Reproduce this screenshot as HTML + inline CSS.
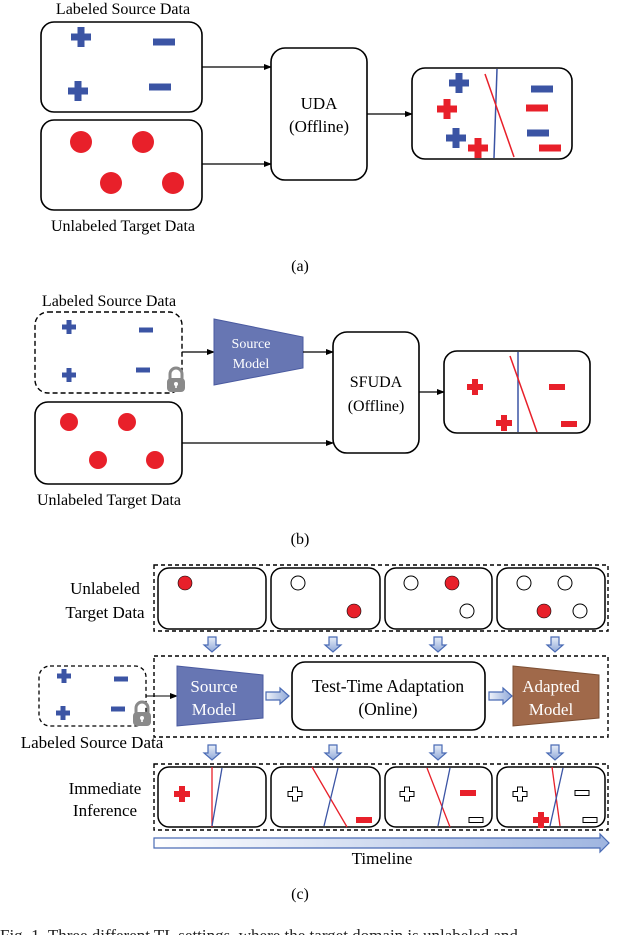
<!DOCTYPE html>
<html><head><meta charset="utf-8"><style>
html,body{margin:0;padding:0;background:#fff;}
svg{display:block;font-family:"Liberation Serif",serif;}
</style></head><body>
<svg width="640" height="935" viewBox="0 0 640 935" xmlns="http://www.w3.org/2000/svg">
<defs>
<marker id="ah" markerWidth="8" markerHeight="8" refX="7" refY="4" orient="auto" markerUnits="userSpaceOnUse"><path d="M0,1 L8,4 L0,7 Z" fill="#000"/></marker>
<linearGradient id="bg" x1="0" y1="0" x2="0" y2="1"><stop offset="0" stop-color="#e8eef8"/><stop offset="1" stop-color="#8fa8d8"/></linearGradient>
<linearGradient id="bgh" x1="0" y1="0" x2="1" y2="0"><stop offset="0" stop-color="#eef2fa"/><stop offset="1" stop-color="#8fa8d8"/></linearGradient>
<linearGradient id="tl" x1="0" y1="0" x2="1" y2="0"><stop offset="0" stop-color="#ffffff"/><stop offset="1" stop-color="#9fb5e0"/></linearGradient>
<g id="bp"><rect x="-10" y="-3.5" width="20" height="7" fill="#3b54a4"/><rect x="-3.5" y="-10" width="7" height="20" fill="#3b54a4"/></g>
<g id="rp"><rect x="-10" y="-3.5" width="20" height="7" fill="#e8202a"/><rect x="-3.5" y="-10" width="7" height="20" fill="#e8202a"/></g>
<g id="bm"><rect x="-11" y="-3.5" width="22" height="7" fill="#3b54a4"/></g>
<g id="rm"><rect x="-11" y="-3.5" width="22" height="7" fill="#e8202a"/></g>
<g id="bps"><rect x="-7" y="-2.5" width="14" height="5" fill="#3b54a4"/><rect x="-2.5" y="-7" width="5" height="14" fill="#3b54a4"/></g>
<g id="bms"><rect x="-7" y="-2.5" width="14" height="5" fill="#3b54a4"/></g>
<g id="rps"><rect x="-8" y="-3" width="16" height="6" fill="#e8202a"/><rect x="-3" y="-8" width="6" height="16" fill="#e8202a"/></g>
<g id="rms"><rect x="-8" y="-3" width="16" height="6" fill="#e8202a"/></g>
<g id="hp"><path d="M-2.5,-7 h5 v4.5 h4.5 v5 h-4.5 v4.5 h-5 v-4.5 h-4.5 v-5 h4.5 Z" fill="#fff" stroke="#000" stroke-width="1"/></g>
<g id="hm"><rect x="-7" y="-2.5" width="14" height="5" fill="#fff" stroke="#000" stroke-width="1"/></g>
<g id="lock"><path d="M-6,-2 v-5 a6,6 0 0 1 12,0 v5" fill="none" stroke="#8a8a8a" stroke-width="3"/><rect x="-9" y="-3" width="18" height="14" rx="4" fill="#8a8a8a"/><circle cx="0" cy="3" r="2" fill="#fff"/><rect x="-0.8" y="3" width="1.6" height="4" fill="#fff"/></g>
<g id="da"><path d="M-4,0 h8 v8 h4 l-8,7 l-8,-7 h4 Z" fill="url(#bg)" stroke="#4a6bb5" stroke-width="1.2"/></g>
<g id="ra"><path d="M0,-4 h14 v-4 l9,8 l-9,8 v-4 h-14 Z" fill="url(#bgh)" stroke="#4a6bb5" stroke-width="1.2"/></g>
</defs>

<!-- (a) -->
<text x="123" y="14" font-size="16" text-anchor="middle">Labeled Source Data</text>
<rect x="41" y="22" width="161" height="90" rx="13" fill="#fff" stroke="#000" stroke-width="1.6"/>
<use href="#bp" x="81" y="37"/><use href="#bp" x="78" y="91"/>
<use href="#bm" x="164" y="42"/><use href="#bm" x="160" y="87"/>
<rect x="41" y="120" width="161" height="90" rx="13" fill="#fff" stroke="#000" stroke-width="1.6"/>
<circle cx="81" cy="142" r="11" fill="#e8202a"/><circle cx="143" cy="142" r="11" fill="#e8202a"/>
<circle cx="111" cy="183" r="11" fill="#e8202a"/><circle cx="173" cy="183" r="11" fill="#e8202a"/>
<text x="123" y="231" font-size="16" text-anchor="middle">Unlabeled Target Data</text>
<line x1="202" y1="67" x2="271" y2="67" stroke="#000" stroke-width="1.2" marker-end="url(#ah)"/>
<line x1="202" y1="164" x2="271" y2="164" stroke="#000" stroke-width="1.2" marker-end="url(#ah)"/>
<rect x="271" y="48" width="96" height="132" rx="14" fill="#fff" stroke="#000" stroke-width="1.6"/>
<text x="319" y="109" font-size="17" text-anchor="middle">UDA</text>
<text x="319" y="132" font-size="17" text-anchor="middle">(Offline)</text>
<line x1="367" y1="114" x2="412" y2="114" stroke="#000" stroke-width="1.2" marker-end="url(#ah)"/>
<rect x="412" y="68" width="160" height="91" rx="13" fill="#fff" stroke="#000" stroke-width="1.6"/>
<line x1="497" y1="69" x2="494" y2="158" stroke="#3b54a4" stroke-width="1.5"/>
<line x1="485" y1="74" x2="514" y2="157" stroke="#e8202a" stroke-width="1.5"/>
<use href="#bp" x="459" y="83"/><use href="#bp" x="456" y="138"/>
<use href="#rp" x="447" y="109"/><use href="#rp" x="478" y="148"/>
<use href="#bm" x="542" y="89"/><use href="#bm" x="538" y="133"/>
<use href="#rm" x="537" y="108"/><use href="#rm" x="550" y="148"/>
<text x="300" y="271" font-size="16" text-anchor="middle">(a)</text>

<!-- (b) -->
<text x="109" y="306" font-size="16" text-anchor="middle">Labeled Source Data</text>
<rect x="35" y="312" width="147" height="81" rx="13" fill="#fff" stroke="#000" stroke-width="1.4" stroke-dasharray="5,3"/>
<use href="#bps" x="69" y="327"/><use href="#bps" x="69" y="375"/>
<use href="#bms" x="146" y="330"/><use href="#bms" x="143" y="370"/>
<use href="#lock" x="176" y="381"/>
<rect x="35" y="402" width="147" height="82" rx="13" fill="#fff" stroke="#000" stroke-width="1.6"/>
<circle cx="69" cy="422" r="9" fill="#e8202a"/><circle cx="127" cy="422" r="9" fill="#e8202a"/>
<circle cx="98" cy="460" r="9" fill="#e8202a"/><circle cx="155" cy="460" r="9" fill="#e8202a"/>
<text x="109" y="505" font-size="16" text-anchor="middle">Unlabeled Target Data</text>
<line x1="182" y1="352" x2="214" y2="352" stroke="#000" stroke-width="1.2" marker-end="url(#ah)"/>
<polygon points="214,319 303,337 303,368 214,385" fill="#6776b3" stroke="#4a5aa0" stroke-width="1"/>
<text x="251" y="348" font-size="14" fill="#fff" text-anchor="middle">Source</text>
<text x="251" y="368" font-size="14" fill="#fff" text-anchor="middle">Model</text>
<line x1="303" y1="352" x2="333" y2="352" stroke="#000" stroke-width="1.2" marker-end="url(#ah)"/>
<line x1="182" y1="443" x2="333" y2="443" stroke="#000" stroke-width="1.2" marker-end="url(#ah)"/>
<rect x="333" y="332" width="86" height="121" rx="14" fill="#fff" stroke="#000" stroke-width="1.6"/>
<text x="376" y="387" font-size="16" text-anchor="middle">SFUDA</text>
<text x="376" y="411" font-size="16" text-anchor="middle">(Offline)</text>
<line x1="419" y1="392" x2="444" y2="392" stroke="#000" stroke-width="1.2" marker-end="url(#ah)"/>
<rect x="444" y="351" width="146" height="82" rx="13" fill="#fff" stroke="#000" stroke-width="1.6"/>
<line x1="518" y1="352" x2="518" y2="432" stroke="#3b54a4" stroke-width="1.5"/>
<line x1="510" y1="356" x2="537" y2="432" stroke="#e8202a" stroke-width="1.5"/>
<use href="#rps" x="475" y="387"/><use href="#rps" x="504" y="423"/>
<use href="#rms" x="557" y="387"/><use href="#rms" x="569" y="424"/>
<text x="300" y="544" font-size="16" text-anchor="middle">(b)</text>

<!-- (c) -->
<rect x="154" y="565" width="454" height="66" fill="none" stroke="#000" stroke-width="1.4" stroke-dasharray="4,3"/>
<rect x="158" y="568" width="108" height="61" rx="11" fill="#fff" stroke="#000" stroke-width="1.5"/>
<rect x="271" y="568" width="109" height="61" rx="11" fill="#fff" stroke="#000" stroke-width="1.5"/>
<rect x="385" y="568" width="107" height="61" rx="11" fill="#fff" stroke="#000" stroke-width="1.5"/>
<rect x="497" y="568" width="108" height="61" rx="11" fill="#fff" stroke="#000" stroke-width="1.5"/>
<circle cx="185" cy="583" r="7" fill="#e8202a" stroke="#000" stroke-width="0.6"/>
<circle cx="298" cy="583" r="7" fill="#fff" stroke="#000" stroke-width="1"/>
<circle cx="354" cy="611" r="7" fill="#e8202a" stroke="#000" stroke-width="0.6"/>
<circle cx="411" cy="583" r="7" fill="#fff" stroke="#000" stroke-width="1"/>
<circle cx="452" cy="583" r="7" fill="#e8202a" stroke="#000" stroke-width="0.6"/>
<circle cx="467" cy="611" r="7" fill="#fff" stroke="#000" stroke-width="1"/>
<circle cx="524" cy="583" r="7" fill="#fff" stroke="#000" stroke-width="1"/>
<circle cx="565" cy="583" r="7" fill="#fff" stroke="#000" stroke-width="1"/>
<circle cx="544" cy="611" r="7" fill="#e8202a" stroke="#000" stroke-width="0.6"/>
<circle cx="580" cy="611" r="7" fill="#fff" stroke="#000" stroke-width="1"/>
<text x="105" y="594" font-size="17" text-anchor="middle">Unlabeled</text>
<text x="105" y="618" font-size="17" text-anchor="middle">Target Data</text>
<use href="#da" x="212" y="637"/><use href="#da" x="333" y="637"/><use href="#da" x="438" y="637"/><use href="#da" x="555" y="637"/>

<rect x="154" y="656" width="454" height="81" fill="none" stroke="#000" stroke-width="1.4" stroke-dasharray="4,3"/>
<rect x="39" y="666" width="107" height="60" rx="11" fill="#fff" stroke="#000" stroke-width="1.3" stroke-dasharray="4,3"/>
<use href="#bps" x="64" y="676"/><use href="#bps" x="63" y="713"/>
<use href="#bms" x="121" y="679"/><use href="#bms" x="118" y="709"/>
<use href="#lock" x="142" y="715"/>
<line x1="146" y1="696" x2="177" y2="696" stroke="#000" stroke-width="1" marker-end="url(#ah)"/>
<text x="92" y="748" font-size="17" text-anchor="middle">Labeled Source Data</text>
<polygon points="177,666 263,675 263,718 177,726" fill="#6776b3" stroke="#4a5aa0" stroke-width="1"/>
<text x="214" y="692" font-size="17" fill="#fff" text-anchor="middle">Source</text>
<text x="214" y="715" font-size="17" fill="#fff" text-anchor="middle">Model</text>
<use href="#ra" x="266" y="696"/>
<rect x="292" y="662" width="193" height="68" rx="13" fill="#fff" stroke="#000" stroke-width="1.6"/>
<text x="388" y="692" font-size="17.5" text-anchor="middle">Test-Time Adaptation</text>
<text x="388" y="715" font-size="17.5" text-anchor="middle">(Online)</text>
<use href="#ra" x="489" y="696"/>
<polygon points="513,666 599,675 599,718 513,726" fill="#a0694a" stroke="#7d4f33" stroke-width="1"/>
<text x="551" y="692" font-size="17" fill="#fff" text-anchor="middle">Adapted</text>
<text x="551" y="715" font-size="17" fill="#fff" text-anchor="middle">Model</text>
<use href="#da" x="212" y="745"/><use href="#da" x="333" y="745"/><use href="#da" x="438" y="745"/><use href="#da" x="555" y="745"/>

<rect x="154" y="764" width="454" height="66" fill="none" stroke="#000" stroke-width="1.4" stroke-dasharray="4,3"/>
<rect x="158" y="767" width="108" height="60" rx="11" fill="#fff" stroke="#000" stroke-width="1.5"/>
<rect x="271" y="767" width="109" height="60" rx="11" fill="#fff" stroke="#000" stroke-width="1.5"/>
<rect x="385" y="767" width="107" height="60" rx="11" fill="#fff" stroke="#000" stroke-width="1.5"/>
<rect x="497" y="767" width="108" height="60" rx="11" fill="#fff" stroke="#000" stroke-width="1.5"/>
<text x="105" y="794" font-size="17" text-anchor="middle">Immediate</text>
<text x="105" y="816" font-size="17" text-anchor="middle">Inference</text>
<line x1="212" y1="767" x2="212" y2="827" stroke="#e8202a" stroke-width="1.3"/>
<line x1="222" y1="768" x2="212" y2="826" stroke="#3b54a4" stroke-width="1.3"/>
<use href="#rps" x="182" y="794"/>
<line x1="312" y1="767" x2="347" y2="827" stroke="#e8202a" stroke-width="1.3"/>
<line x1="338" y1="768" x2="324" y2="826" stroke="#3b54a4" stroke-width="1.3"/>
<use href="#hp" x="295" y="794"/>
<use href="#rms" x="364" y="820"/>
<line x1="427" y1="768" x2="450" y2="827" stroke="#e8202a" stroke-width="1.3"/>
<line x1="450" y1="768" x2="438" y2="826" stroke="#3b54a4" stroke-width="1.3"/>
<use href="#hp" x="407" y="794"/>
<use href="#rms" x="468" y="793"/>
<use href="#hm" x="476" y="820"/>
<line x1="552" y1="767" x2="560" y2="826" stroke="#e8202a" stroke-width="1.3"/>
<line x1="563" y1="768" x2="550" y2="826" stroke="#3b54a4" stroke-width="1.3"/>
<use href="#hp" x="520" y="794"/>
<use href="#hm" x="582" y="793"/>
<use href="#hm" x="590" y="820"/>
<use href="#rps" x="541" y="820"/>

<path d="M154,838 H600 V834 L609,843 L600,852 V848 H154 Z" fill="url(#tl)" stroke="#4a6bb5" stroke-width="1.2"/>
<text x="382" y="864" font-size="17" text-anchor="middle">Timeline</text>
<text x="300" y="899" font-size="16" text-anchor="middle">(c)</text>
<text x="0" y="941" font-size="17" fill="#222">Fig. 1.   Three different TL settings, where the target domain is unlabeled and</text>
</svg>
</body></html>
